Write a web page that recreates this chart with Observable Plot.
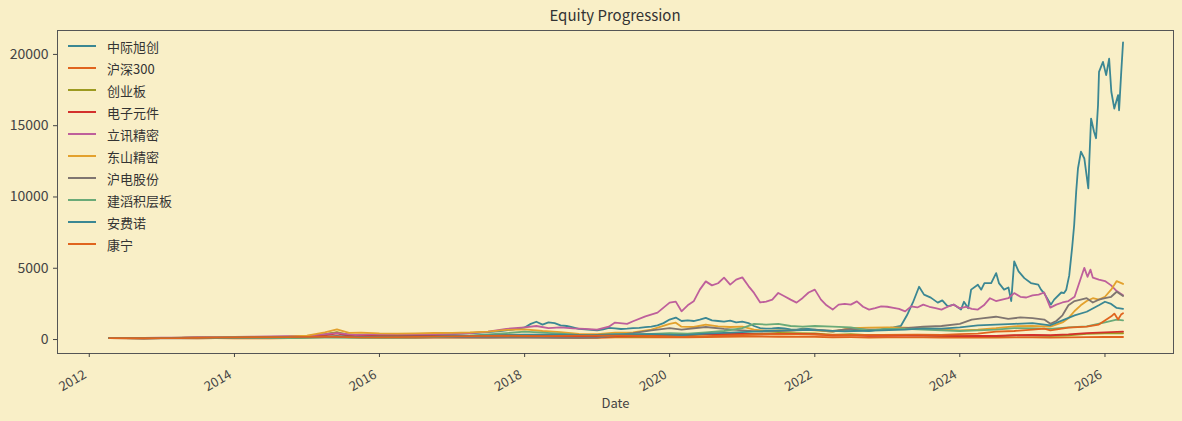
<!DOCTYPE html>
<html>
<head>
<meta charset="utf-8">
<script src="https://cdn.jsdelivr.net/npm/d3@7"></script>
<script src="https://cdn.jsdelivr.net/npm/@observablehq/plot@0.6"></script>
<style>
  html, body { margin: 0; padding: 0; background: #f9efc7; }
  #wrap { position: relative; width: 1182px; height: 421px; font-family: 'Noto Sans CJK SC', 'Noto Sans', sans-serif; }
  #title { position: absolute; left: 57px; width: 1116px; top: 4px; text-align: center; font-size: 15px; color: #333; }
  #legend { position: absolute; left: 68px; top: 35px; }
  .row { display: flex; align-items: center; height: 22px; font-size: 13px; color: #333; }
  .sw { width: 28px; height: 2px; margin-right: 11px; }
</style>
</head>
<body>
<div id="wrap">
  <div id="chart"></div>
  <div id="title">Equity Progression</div>
  <div id="legend"></div>
</div>
<script>
const names = ["中际旭创","沪深300","创业板","电子元件","立讯精密","东山精密","沪电股份","建滔积层板","安费诺","康宁"];
const colors = ["#3b8793","#e0641e","#9c9a20","#d3302c","#be5f9b","#e3a12d","#7f7570","#6aaa78","#3b8793","#e0641e"];
const yTicks = [0, 5000, 10000, 15000, 20000];
const xTickYears = [2012, 2014, 2016, 2018, 2020, 2022, 2024, 2026];

const zjxc = [["2012-04-10",100],["2012-07",98],["2012-10",92],["2013-01",100],["2013-04",112],["2013-07",125],["2013-10",140],["2014-01",150],["2014-04",160],["2014-07",165],["2014-10",180],["2015-01",230],["2015-03",320],["2015-05",430],["2015-06",480],["2015-07",340],["2015-09",290],["2015-11",340],["2016-01",310],["2016-04",320],["2016-07",330],["2016-10",350],["2017-01",380],["2017-04",440],["2017-07",520],["2017-09",600],["2017-11",700],["2018-01",850],["2018-02",1100],["2018-03",1250],["2018-04",1050],["2018-05",1200],["2018-06",1150],["2018-07",1000],["2018-08",950],["2018-09",850],["2018-10",750],["2018-11",720],["2018-12",680],["2019-01",650],["2019-02",720],["2019-03",820],["2019-04",780],["2019-05",740],["2019-06",760],["2019-07",800],["2019-08",820],["2019-09",870],["2019-10",900],["2019-11",1000],["2019-12",1150],["2020-01",1400],["2020-02",1540],["2020-03",1300],["2020-04",1350],["2020-05",1300],["2020-06",1400],["2020-07",1520],["2020-08",1350],["2020-09",1300],["2020-10",1250],["2020-11",1320],["2020-12",1200],["2021-01",1250],["2021-02",1150],["2021-03",950],["2021-04",800],["2021-05",760],["2021-06",780],["2021-07",820],["2021-08",780],["2021-09",720],["2021-10",700],["2021-11",760],["2021-12",740],["2022-01",700],["2022-02",650],["2022-03",600],["2022-04",550],["2022-05",620],["2022-06",700],["2022-07",680],["2022-08",650],["2022-09",620],["2022-10",600],["2022-11",660],["2022-12",700],["2023-01",800],["2023-02",850],["2023-03-10",950],["2023-04-10",1700],["2023-05-10",2600],["2023-06-10",3700],["2023-07-05",3150],["2023-08-08",2940],["2023-09-12",2590],["2023-10-05",2750],["2023-11-01",2330],["2023-12-01",2450],["2024-01-07",2100],["2024-01-22",2650],["2024-02-12",2200],["2024-02-27",3500],["2024-04-01",3850],["2024-04-18",3500],["2024-05-04",3960],["2024-06-07",3960],["2024-07-02",4660],["2024-07-16",3960],["2024-08-11",3500],["2024-09-02",3650],["2024-09-16",2700],["2024-10-01",5480],["2024-10-23",4780],["2024-11-21",4310],["2024-12-24",3960],["2025-01-30",3850],["2025-02-13",3500],["2025-02-28",3260],["2025-03-20",2800],["2025-04-04",2450],["2025-04-20",2800],["2025-05-26",3300],["2025-06-09",3260],["2025-06-20",3500],["2025-07-05",4500],["2025-07-20",6500],["2025-07-30",8050],["2025-08-09",10370],["2025-08-18",12000],["2025-09-02",13180],["2025-09-19",12700],["2025-10-09",10600],["2025-10-14",12500],["2025-10-23",15500],["2025-11-07",14580],["2025-11-17",14120],["2025-11-27",16450],["2025-12-02",18780],["2025-12-22",19480],["2026-01-07",18550],["2026-01-22",19700],["2026-02-02",17380],["2026-02-17",16200],["2026-03-08",17150],["2026-03-13",16080],["2026-03-23",18550],["2026-04-02",20850]];

const hs300 = [["2012-04-10",100],["2012-07",92],["2012-10",86],["2013-01",100],["2013-04",96],["2013-07",85],["2013-10",93],["2014-01",85],["2014-04",82],["2014-07",86],["2014-10",95],["2015-01",135],["2015-04",180],["2015-06",205],["2015-08",150],["2015-10",140],["2016-01",120],["2016-04",123],["2016-07",125],["2016-10",128],["2017-01",130],["2017-04",135],["2017-07",145],["2017-10",155],["2018-01",170],["2018-04",150],["2018-07",135],["2018-10",125],["2019-01",120],["2019-04",155],["2019-07",150],["2019-10",150],["2020-01",160],["2020-04",150],["2020-07",180],["2020-10",185],["2021-01",210],["2021-02",222],["2021-04",200],["2021-07",195],["2021-10",190],["2022-01",185],["2022-04",160],["2022-07",165],["2022-10",145],["2023-01",160],["2023-04",155],["2023-07",150],["2023-10",138],["2024-01",128],["2024-04",138],["2024-07",133],["2024-10",155],["2025-01",150],["2025-04",145],["2025-07",157],["2025-10",175],["2026-01",178],["2026-04-02",180]];

const cyb = [["2012-04-10",100],["2012-07",95],["2012-10",92],["2013-01",105],["2013-04",125],["2013-07",155],["2013-10",170],["2014-01",185],["2014-04",180],["2014-07",180],["2014-10",200],["2015-01",230],["2015-04",360],["2015-06",520],["2015-08",330],["2015-10",330],["2016-01",300],["2016-04",290],["2016-07",290],["2016-10",280],["2017-01",260],["2017-04",245],["2017-07",235],["2017-10",250],["2018-01",245],["2018-04",240],["2018-07",210],["2018-10",185],["2019-01",175],["2019-04",235],["2019-07",215],["2019-10",230],["2020-01",260],["2020-04",290],["2020-07",360],["2020-10",360],["2021-01",410],["2021-04",390],["2021-07",460],["2021-10",450],["2022-01",430],["2022-04",330],["2022-07",380],["2022-10",315],["2023-01",320],["2023-04",310],["2023-07",300],["2023-10",260],["2024-01",240],["2024-04",240],["2024-07",220],["2024-10",290],["2025-01",290],["2025-04",260],["2025-07",300],["2025-10",400],["2026-01",430],["2026-04-02",440]];

const dzyj = [["2012-04-10",100],["2012-07",95],["2012-10",90],["2013-01",100],["2013-04",110],["2013-07",125],["2013-10",135],["2014-01",140],["2014-04",135],["2014-07",140],["2014-10",155],["2015-01",180],["2015-04",300],["2015-06",430],["2015-08",260],["2015-10",270],["2016-01",240],["2016-04",245],["2016-07",250],["2016-10",255],["2017-01",250],["2017-04",255],["2017-07",270],["2017-10",290],["2018-01",280],["2018-04",250],["2018-07",220],["2018-10",190],["2019-01",180],["2019-04",240],["2019-07",240],["2019-10",280],["2020-01",350],["2020-04",330],["2020-07",400],["2020-10",380],["2021-01",390],["2021-04",360],["2021-07",400],["2021-10",390],["2022-01",370],["2022-04",290],["2022-07",310],["2022-10",260],["2023-01",280],["2023-04",285],["2023-07",280],["2023-10",260],["2024-01",240],["2024-04",250],["2024-07",250],["2024-10",300],["2025-01",320],["2025-04",300],["2025-07",360],["2025-10",450],["2026-01",500],["2026-04-02",560]];

const lxjm = [["2012-04-10",100],["2012-07",105],["2012-10",110],["2013-01",125],["2013-04",140],["2013-07",160],["2013-10",180],["2014-01",190],["2014-04",200],["2014-07",215],["2014-10",230],["2015-01",260],["2015-04",380],["2015-06",450],["2015-09",330],["2016-01",380],["2016-06",360],["2016-10",380],["2017-01",400],["2017-04",450],["2017-07",550],["2017-10",750],["2018-01",850],["2018-03",950],["2018-05",800],["2018-07",850],["2018-09",780],["2018-11",750],["2019-01",700],["2019-03",900],["2019-04",1190],["2019-06",1100],["2019-07",1280],["2019-09",1630],["2019-11",1890],["2020-01",2590],["2020-02",2660],["2020-03",1980],["2020-04",2400],["2020-05",2680],["2020-06",3500],["2020-07",4080],["2020-08",3800],["2020-09",3950],["2020-10",4340],["2020-11",3850],["2020-12",4200],["2021-01",4360],["2021-02",3750],["2021-03",3270],["2021-04",2600],["2021-05",2660],["2021-06",2800],["2021-07",3270],["2021-08",3040],["2021-09",2800],["2021-10",2590],["2021-11",2920],["2021-12",3300],["2022-01",3500],["2022-02",2800],["2022-03",2400],["2022-04",2100],["2022-05",2450],["2022-06",2500],["2022-07",2450],["2022-08",2680],["2022-09",2300],["2022-10",2100],["2022-11",2200],["2022-12",2330],["2023-01",2300],["2023-02",2220],["2023-03",2150],["2023-04",1980],["2023-05",2330],["2023-06",2250],["2023-07",2450],["2023-08",2300],["2023-09",2200],["2023-10",2100],["2023-11",2300],["2023-12",2450],["2024-01",2200],["2024-02",2300],["2024-03",2150],["2024-04",2100],["2024-05",2400],["2024-06",2900],["2024-07",2700],["2024-08",2800],["2024-09",2900],["2024-10",3260],["2024-11",3000],["2024-12",2950],["2025-01",3100],["2025-02",3150],["2025-03",3300],["2025-04",2240],["2025-05",2450],["2025-06",2600],["2025-07",2700],["2025-08",3000],["2025-09-19",5030],["2025-10-05",4400],["2025-10-20",4900],["2025-11",4340],["2025-12",4200],["2026-01",4100],["2026-02",3800],["2026-03",3400],["2026-04-02",3100]];

const dsjm = [["2012-04-10",100],["2012-10",95],["2013-04",110],["2013-10",150],["2014-04",170],["2014-10",200],["2015-01",280],["2015-04",500],["2015-06",720],["2015-08",470],["2015-10",480],["2016-01",430],["2016-04",420],["2016-07",430],["2016-10",460],["2017-01",470],["2017-04",500],["2017-07",560],["2017-10",680],["2018-01",720],["2018-04",600],["2018-07",520],["2018-10",400],["2019-01",380],["2019-04",480],["2019-07",500],["2019-10",700],["2020-01",1100],["2020-02",1180],["2020-03",900],["2020-05",880],["2020-07",1050],["2020-09",920],["2020-11",880],["2021-01",900],["2021-03",700],["2021-05",600],["2021-07",650],["2021-09",620],["2021-11",700],["2022-01",650],["2022-04",560],["2022-07",800],["2022-10",830],["2023-01",850],["2023-04",830],["2023-07",800],["2023-10",720],["2024-01",650],["2024-04",700],["2024-07",800],["2024-10",930],["2025-01",950],["2025-04",900],["2025-06",1200],["2025-07",1500],["2025-08",2000],["2025-09",2400],["2025-10",2700],["2025-11",2900],["2025-12",2800],["2026-01",3000],["2026-02",3500],["2026-03",4100],["2026-04-02",3900]];

const hdgf = [["2012-04-10",100],["2012-10",92],["2013-04",90],["2013-10",100],["2014-04",110],["2014-10",120],["2015-01",150],["2015-06",250],["2015-09",180],["2016-01",170],["2016-07",160],["2017-01",150],["2017-07",145],["2018-01",140],["2018-07",120],["2018-10",110],["2019-01",130],["2019-04",300],["2019-07",450],["2019-10",650],["2020-01",800],["2020-03",700],["2020-07",880],["2020-10",750],["2021-01",650],["2021-04",550],["2021-07",600],["2021-10",650],["2022-01",700],["2022-04",600],["2022-07",750],["2022-10",700],["2023-01",720],["2023-04",800],["2023-07",900],["2023-10",950],["2024-01",1100],["2024-03",1400],["2024-05",1500],["2024-07",1600],["2024-09",1450],["2024-11",1550],["2025-01",1500],["2025-03",1400],["2025-04",1100],["2025-05",1300],["2025-06",1700],["2025-07",2400],["2025-08",2700],["2025-09",2800],["2025-10",2900],["2025-11",2600],["2025-12",2800],["2026-01",2900],["2026-02",3000],["2026-03",3350],["2026-04-02",3050]];

const jtjcb = [["2012-04-10",100],["2012-10",95],["2013-04",100],["2013-10",110],["2014-04",105],["2014-10",110],["2015-04",140],["2015-10",120],["2016-04",140],["2016-10",180],["2017-04",280],["2017-10",450],["2018-01",550],["2018-04",480],["2018-07",420],["2018-10",330],["2019-01",320],["2019-04",380],["2019-07",360],["2019-10",400],["2020-01",450],["2020-04",420],["2020-07",500],["2020-10",600],["2021-01",800],["2021-03",1100],["2021-05",1050],["2021-07",1100],["2021-09",950],["2021-11",900],["2022-01",950],["2022-04",900],["2022-07",850],["2022-10",650],["2023-01",750],["2023-04",750],["2023-07",700],["2023-10",650],["2024-01",600],["2024-04",650],["2024-07",700],["2024-10",800],["2025-01",780],["2025-04",750],["2025-07",850],["2025-10",930],["2026-01",1200],["2026-03",1400],["2026-04-02",1350]];

const afn = [["2012-04-10",100],["2012-10",105],["2013-04",115],["2013-10",140],["2014-04",160],["2014-10",170],["2015-04",190],["2015-10",180],["2016-04",200],["2016-10",220],["2017-04",260],["2017-10",320],["2018-01",350],["2018-07",340],["2018-12",300],["2019-04",360],["2019-10",380],["2020-03",300],["2020-07",420],["2020-12",500],["2021-06",620],["2021-12",680],["2022-06",580],["2022-12",650],["2023-04",700],["2023-07",780],["2023-10",760],["2024-01",850],["2024-04",1000],["2024-07",1050],["2024-10",1100],["2025-01",1150],["2025-04",1000],["2025-06",1350],["2025-08",1700],["2025-10",1950],["2025-12",2400],["2026-01",2650],["2026-02",2500],["2026-03",2220],["2026-04-02",2150]];

const kn = [["2012-04-10",100],["2012-10",95],["2013-04",105],["2013-10",130],["2014-04",160],["2014-10",170],["2015-04",200],["2015-10",150],["2016-04",170],["2016-10",200],["2017-04",240],["2017-10",270],["2018-04",240],["2018-10",280],["2019-04",280],["2019-10",250],["2020-03",180],["2020-07",230],["2020-12",300],["2021-06",380],["2021-12",360],["2022-06",320],["2022-12",330],["2023-06",350],["2023-10",330],["2024-01",380],["2024-04",420],["2024-07",550],["2024-10",600],["2025-01",700],["2025-03",770],["2025-04",650],["2025-07",840],["2025-10",910],["2025-12",1050],["2026-02-02",1630],["2026-02-17",1820],["2026-03-08",1400],["2026-03-23",1750],["2026-04-02",1850]];

const seriesData = [zjxc, hs300, cyb, dzyj, lxjm, dsjm, hdgf, jtjcb, afn, kn];

const lines = seriesData.map((data, i) =>
  Plot.line(data, {x: d => new Date(d[0]), y: d => d[1], stroke: colors[i], strokeWidth: 1.8, strokeLinejoin: "round"})
);

const chart = Plot.plot({
  width: 1182,
  height: 421,
  marginTop: 30,
  marginLeft: 57,
  marginRight: 9,
  marginBottom: 68,
  style: {background: "#f9efc7", fontFamily: "'Noto Sans CJK SC', 'Noto Sans', sans-serif", fontSize: "13px", color: "#444"},
  x: {type: "utc", domain: [new Date("2011-07-25"), new Date("2026-12-12")]},
  y: {domain: [-979, 21678]},
  marks: [
    ...lines,
    Plot.frame({stroke: "#555", strokeWidth: 1}),
    Plot.axisY({ticks: yTicks, tickFormat: d => String(d), tickSize: 4, tickPadding: 5, label: null, fontSize: 14}),
    Plot.axisX({ticks: xTickYears.map(y => new Date(Date.UTC(y, 0, 1))), tickSize: 4, tickPadding: 0, text: null, label: "Date", labelAnchor: "center", labelArrow: "none", labelOffset: 54}),
    Plot.axisX({ticks: xTickYears.map(y => new Date(Date.UTC(y, 0, 1))), tickFormat: d3.utcFormat("%Y"), tickSize: 0, tickPadding: 20, tickRotate: -30, dx: -4, label: null, fontSize: 13})
  ]
});
document.getElementById("chart").appendChild(chart);

const legend = document.getElementById("legend");
names.forEach((n, i) => {
  const row = document.createElement("div");
  row.className = "row";
  const sw = document.createElement("div");
  sw.className = "sw";
  sw.style.background = colors[i];
  const t = document.createElement("span");
  t.textContent = n;
  row.appendChild(sw);
  row.appendChild(t);
  legend.appendChild(row);
});
</script>
</body>
</html>
